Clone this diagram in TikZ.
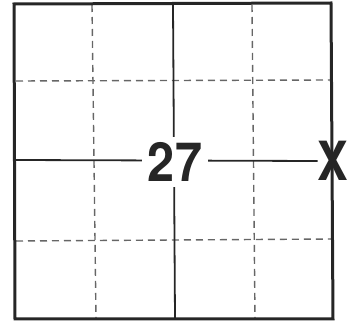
\documentclass[tikz,border=0pt]{standalone}
\usepackage{fontspec}
\setmainfont{TeX Gyre Heros}
\begin{document}
\begin{tikzpicture}[x=1pt,y=-1pt,
  frame/.style={line width=3pt,draw=black!85},
  gridline/.style={line width=1.4pt,draw=black!60,dash pattern=on 7pt off 5pt},
  axis/.style={line width=1.8pt,draw=black!85},
  bignum/.style={font=\fontsize{54}{54}\selectfont\bfseries,text=black!85,inner sep=0pt}]
\useasboundingbox (0,0) rectangle (349,321);
% dashed grid
\draw[gridline] (92,5) -- (96,318);
\draw[gridline] (252,5) -- (255,318);
\draw[gridline] (16,81) -- (331,80);
\draw[gridline] (16,241) -- (332,239);
% frame
\draw[frame] (14,4) -- (331,3) -- (333,319) -- (15,319) -- cycle;
% axes
\coordinate (L) at (15,160);
\coordinate (T) at (173,5);
\coordinate (B) at (175,318);
\draw[axis] (T) -- (B);
\node[bignum,xscale=0.85] (x) at (333,161) {X};
\draw[axis] (L) -- (x.west);
\node[bignum,fill=white,inner xsep=7pt,inner ysep=5pt,xscale=0.9] (n) at (175,162) {27};
\end{tikzpicture}
\end{document}
